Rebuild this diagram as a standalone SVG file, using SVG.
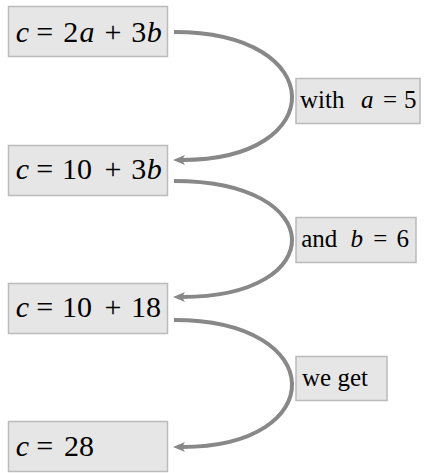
<svg xmlns="http://www.w3.org/2000/svg" width="424" height="473" viewBox="0 0 424 473">
<style>
.box{fill:#e6e6e6;stroke:#bbbbbb;stroke-width:1.5}
.eq{font-family:'Liberation Serif','Times New Roman','DejaVu Serif',serif;font-size:30px;fill:#000;text-anchor:middle}
.lb{font-family:'Liberation Serif','Times New Roman','DejaVu Serif',serif;font-size:25px;fill:#000;text-anchor:middle}
.v{font-style:italic}
.conn{fill:none;stroke:#888888;stroke-width:4}
</style>
<defs>
<marker id="ah" markerUnits="userSpaceOnUse" viewBox="0 0 12 12" refX="3" refY="6" markerWidth="12" markerHeight="12" orient="auto">
<path d="M0,1 L12,6 L0,11 L3,6 z" fill="#888888"/>
</marker>
</defs>
<rect width="424" height="473" fill="#ffffff"/>
<g id="connectors">
<path class="conn" d="M174,32 C330,32 330,160 182,160" marker-end="url(#ah)"/>
<path class="conn" d="M174,181 C330,181 330,297 182,297" marker-end="url(#ah)"/>
<path class="conn" d="M174,320 C330,320 330,447 182,447" marker-end="url(#ah)"/>
</g>
<g id="n1">
<rect class="box" x="8.5" y="6.5" width="159" height="50"/>
<text class="eq" y="41.7"><tspan class="v" x="22.5">c</tspan><tspan x="44.7">=</tspan><tspan x="70.8">2</tspan><tspan class="v" x="87">a</tspan><tspan x="113">+</tspan><tspan x="138.8">3</tspan><tspan class="v" x="154.2">b</tspan></text>
</g>
<g id="n2">
<rect class="box" x="8.5" y="145.5" width="159" height="50"/>
<text class="eq" y="178.6"><tspan class="v" x="22.5">c</tspan><tspan x="44.7">=</tspan><tspan x="77">10</tspan><tspan x="113">+</tspan><tspan x="138.8">3</tspan><tspan class="v" x="154.2">b</tspan></text>
</g>
<g id="n3">
<rect class="box" x="8.5" y="283.5" width="159" height="50"/>
<text class="eq" y="316.5"><tspan class="v" x="22.5">c</tspan><tspan x="44.7">=</tspan><tspan x="77">10</tspan><tspan x="113">+</tspan><tspan x="146">18</tspan></text>
</g>
<g id="n4">
<rect class="box" x="8.5" y="421.5" width="159" height="50"/>
<text class="eq" y="455.5"><tspan class="v" x="22.5">c</tspan><tspan x="44.7">=</tspan><tspan x="79">28</tspan></text>
</g>
<g id="l1">
<rect class="box" x="296" y="78.5" width="124" height="45"/>
<text class="lb" y="107.5"><tspan x="322.2">with</tspan><tspan class="v" x="367.2">a</tspan><tspan x="390">=</tspan><tspan x="410.3">5</tspan></text>
</g>
<g id="l2">
<rect class="box" x="296" y="217.5" width="120" height="45"/>
<text class="lb" y="246.7"><tspan x="319.3">and</tspan><tspan class="v" x="356.7">b</tspan><tspan x="380.3">=</tspan><tspan x="402.8">6</tspan></text>
</g>
<g id="l3">
<rect class="box" x="296" y="356.5" width="91" height="44"/>
<text class="lb" y="385.5"><tspan x="335">we get</tspan></text>
</g>
</svg>
